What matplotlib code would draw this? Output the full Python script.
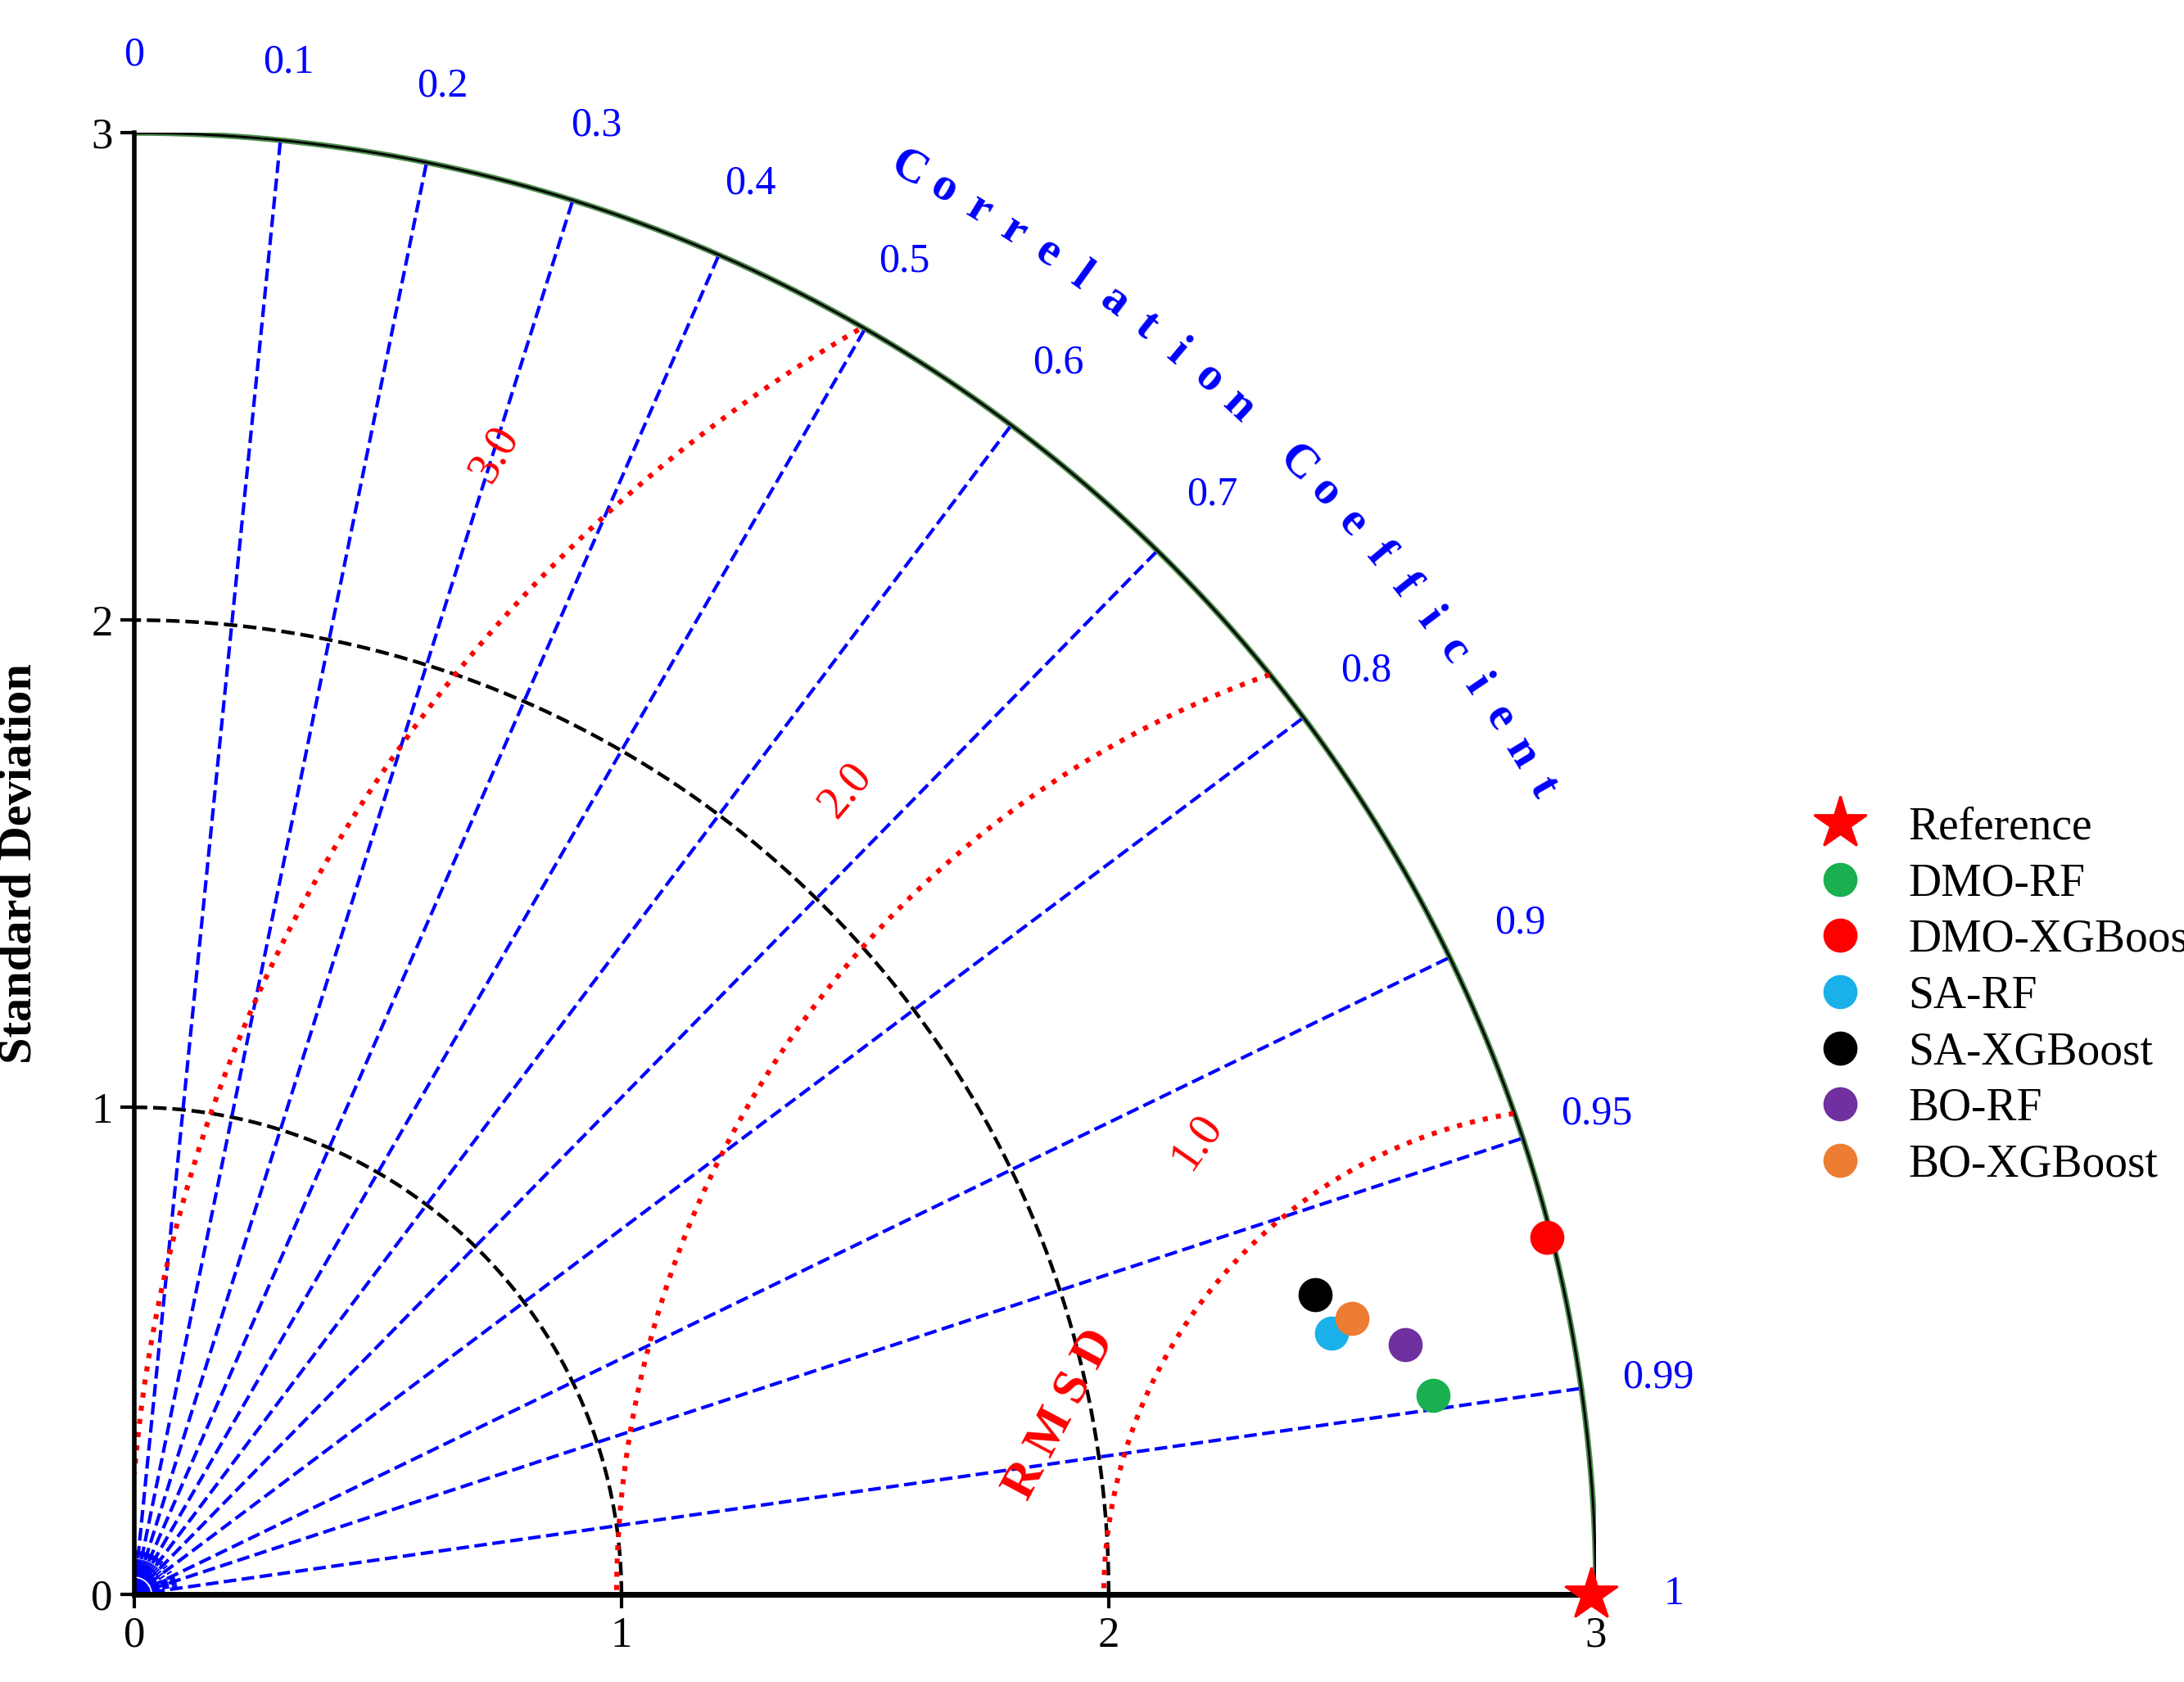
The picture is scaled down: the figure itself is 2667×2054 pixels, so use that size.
import numpy as np
import matplotlib
matplotlib.use("Agg")
import matplotlib.pyplot as plt

plt.rcParams['font.family'] = ['Liberation Serif', 'DejaVu Serif']

models = ["DMO-RF", "DMO-XGBoost", "SA-RF", "SA-XGBoost", "BO-RF", "BO-XGBoost"]
std_x = [2.666, 2.90, 2.458, 2.424, 2.609, 2.50]
std_y = [0.408, 0.733, 0.536, 0.616, 0.513, 0.567]
colors = ["#1aaf4f", "#ff0000", "#1ab0ea", "#000000", "#7030a0", "#ed7d31"]
ref_std = 2.99
corr_major = [0.1, 0.2, 0.3, 0.4, 0.5, 0.6, 0.7, 0.8, 0.9, 0.95, 0.99]
corr_labels = ["0", "0.1", "0.2", "0.3", "0.4", "0.5", "0.6", "0.7", "0.8", "0.9", "0.95", "0.99", "1"]
corr_label_vals = [0, 0.1, 0.2, 0.3, 0.4, 0.5, 0.6, 0.7, 0.8, 0.9, 0.95, 0.99, 1.0]
std_arcs = [1, 2]
rmsd_levels = [1.0, 2.0, 3.0]
rmax = 3.0

fig = plt.figure(figsize=(13.335, 10.27), dpi=200)
ax = fig.add_axes([0.0606, 0.052, 0.671, 0.869])
ax.set_xlim(0, rmax)
ax.set_ylim(0, rmax)
ax.set_aspect('equal')
for s in ['top', 'right']:
    ax.spines[s].set_visible(False)
ax.spines['bottom'].set_linewidth(2.5)
ax.spines['left'].set_linewidth(2)
ax.set_xticks([0, 1, 2, 3]); ax.set_yticks([0, 1, 2, 3])
ax.set_xticklabels(["0", "1", "2", "3"]); ax.set_yticklabels(["0", "1", "2", "3"])
ax.tick_params(labelsize=19, length=6, width=1.5)
ax.set_ylabel("Standard Deviation", fontsize=21, fontweight='bold', labelpad=22)

th = np.linspace(0, np.pi/2, 400)
for r in std_arcs:
    ax.plot(r*np.cos(th), r*np.sin(th), 'k--', lw=1.6)
ax.plot(rmax*np.cos(th), rmax*np.sin(th), color='#4a8a4a', lw=2.5)
ax.plot(rmax*np.cos(th), rmax*np.sin(th), color='k', lw=1.0)

for c in corr_major:
    a = np.arccos(c)
    ax.plot([0, rmax*np.cos(a)], [0, rmax*np.sin(a)], color='blue', ls='--', lw=1.5)
minor = list(np.arange(0.05, 1.0, 0.05)) + [0.91, 0.92, 0.93, 0.94, 0.96, 0.97, 0.98]
for c in minor:
    a = np.arccos(c)
    ax.plot([0, 0.09*np.cos(a)], [0, 0.09*np.sin(a)], color='blue', ls='--', lw=0.8)
for c, lab in zip(corr_label_vals, corr_labels):
    a = np.arccos(c)
    ax.text(3.16*np.cos(a), 3.16*np.sin(a), lab, color='blue', fontsize=18,
            ha='center', va='center', clip_on=False)

title = "Correlation Coefficient"
angs = np.linspace(np.deg2rad(61.5), np.deg2rad(29.8), len(title))
for ch, a in zip(title, angs):
    ax.text(3.33*np.cos(a), 3.33*np.sin(a), ch, color='blue', fontsize=21, fontweight='bold',
            rotation=np.rad2deg(a)-90, ha='center', va='center', clip_on=False)

phi = np.linspace(0, np.pi, 800)
for r in rmsd_levels:
    x = ref_std + r*np.cos(phi)
    y = r*np.sin(phi)
    m = (x**2 + y**2 <= rmax**2) & (x >= 0)
    ax.plot(x[m], y[m], color='red', ls=':', lw=2.2)
rmsd_lab_pos = {1.0: (2.18, 0.93, 55), 2.0: (1.46, 1.65, 50), 3.0: (0.74, 2.34, 60)}
for r in rmsd_levels:
    x, y, rot = rmsd_lab_pos[r]
    ax.text(x, y, f"{r:.1f}", color='red', fontsize=20, rotation=rot, ha='center', va='center')
ax.text(1.9, 0.37, "R M S D", color='red', fontsize=22, fontweight='bold', rotation=62,
        ha='center', va='center')

ax.plot(ref_std, 0, marker='*', color='red', ms=24, ls='', clip_on=False, zorder=5, label="Reference")
for xv, yv, c, n in zip(std_x, std_y, colors, models):
    ax.plot(xv, yv, 'o', color=c, ms=14, ls='', zorder=5, label=n)

fig.legend(*ax.get_legend_handles_labels(), loc='upper left', bbox_to_anchor=(0.803, 0.545),
           frameon=False, fontsize=20, handletextpad=0.5, labelspacing=0.3)
fig.savefig("out.png", dpi=200)
